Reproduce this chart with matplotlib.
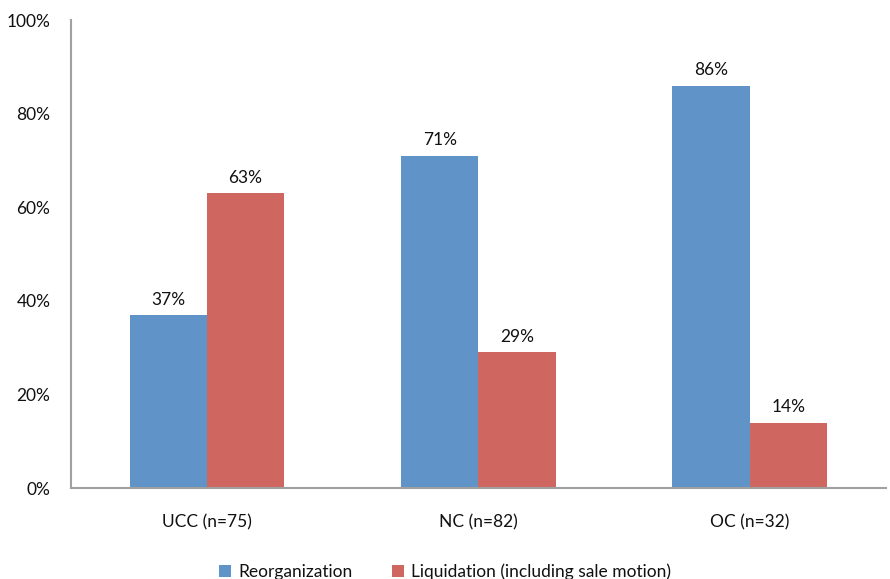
import numpy as np
import matplotlib.pyplot as plt

categories = ["UCC (n=75)", "NC (n=82)", "OC (n=32)"]
reorganization = [37, 71, 86]
liquidation = [63, 29, 14]
series_names = ["Reorganization", "Liquidation (including sale motion)"]
y_ticks = [0, 20, 40, 60, 80, 100]

plt.rcParams["font.family"] = ["Lato", "DejaVu Sans"]

blue = "#6094c8"
red = "#cf6660"
txt = "#111111"

fig = plt.figure(figsize=(8.9, 5.79), dpi=100)
ax = fig.add_axes([0.080, 0.157, 0.915, 0.808])

x = np.arange(len(categories))
w = 0.285
b1 = ax.bar(x - w / 2, reorganization, w, color=blue, label=series_names[0])
b2 = ax.bar(x + w / 2, liquidation, w, color=red, label=series_names[1])

for bars, vals in [(b1, reorganization), (b2, liquidation)]:
    for rect, v in zip(bars, vals):
        ax.text(rect.get_x() + rect.get_width() / 2, v + 1.6, f"{v}%",
                ha="center", va="bottom", fontsize=12.5, color=txt)

ax.set_xlim(-0.5, 2.5)
ax.set_ylim(0, 100)
ax.set_yticks(y_ticks)
ax.set_yticklabels([f"{t}%" for t in y_ticks])
ax.set_xticks(x)
ax.set_xticklabels(categories)
ax.tick_params(axis="both", length=0, labelsize=12.5, colors=txt)
ax.tick_params(axis="y", pad=15)
ax.tick_params(axis="x", pad=19)

for s in ["top", "right"]:
    ax.spines[s].set_visible(False)
for s in ["left", "bottom"]:
    ax.spines[s].set_color("#a0a0a0")
    ax.spines[s].set_linewidth(1.5)

fig.legend(handles=[b1, b2], loc="center", bbox_to_anchor=(0.5, 0.012),
           ncol=2, frameon=False, fontsize=12.5, handlelength=0.7,
           handleheight=0.7, handletextpad=0.4, columnspacing=2.3,
           labelcolor=txt)

fig.savefig("out.png", dpi=100)
